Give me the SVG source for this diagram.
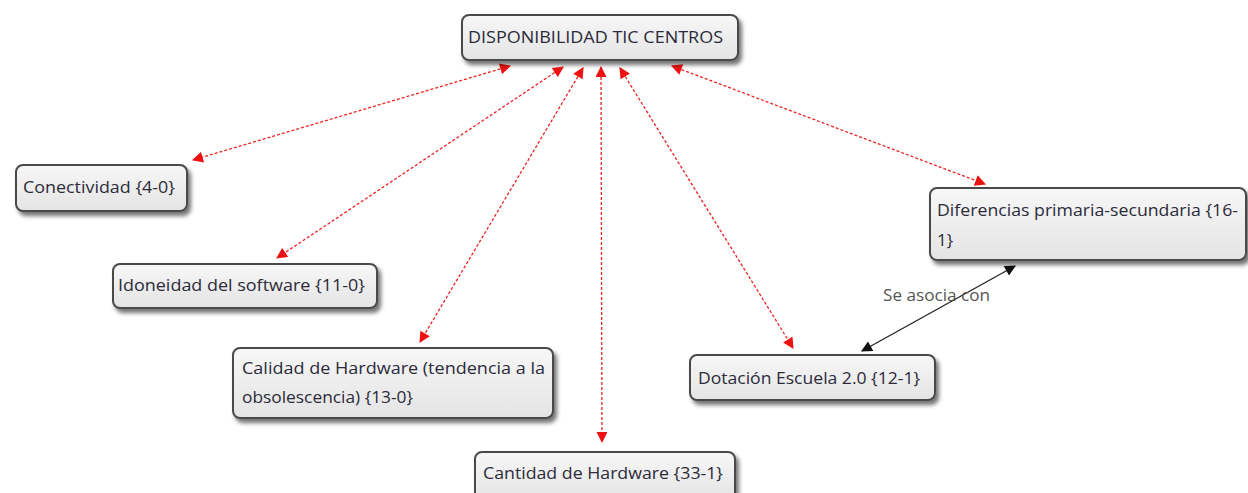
<svg xmlns="http://www.w3.org/2000/svg" width="1248" height="493" viewBox="0 0 1248 493">
<style>
.box{fill:url(#g);stroke:#4a4a4a;stroke-width:2;filter:url(#sh)}
.t{font-family:"Open Sans","Liberation Sans",sans-serif;font-size:17px;fill:#2b2b3a}
.red{stroke:#ee2222;stroke-width:1.3;stroke-dasharray:3 2;fill:none;marker-start:url(#ar);marker-end:url(#ar)}
.blk{stroke:#222;stroke-width:1.3;fill:none;marker-start:url(#ab);marker-end:url(#ab)}
.lbl{font-family:"Open Sans","Liberation Sans",sans-serif;font-size:16px;fill:#555}
</style>
<defs>
<linearGradient id="g" x1="0" y1="0" x2="0" y2="1"><stop offset="0" stop-color="#f7f7f7"/><stop offset="1" stop-color="#e4e4e4"/></linearGradient>
<filter id="sh" x="-10%" y="-20%" width="130%" height="160%"><feDropShadow dx="3" dy="4" stdDeviation="2" flood-color="#000" flood-opacity="0.55"/></filter>
<marker id="ar" viewBox="0 0 10 10" refX="9" refY="5" markerWidth="12" markerHeight="11" markerUnits="userSpaceOnUse" orient="auto-start-reverse"><path d="M0,0 L10,5 L0,10 z" fill="#ee1111"/></marker>
<marker id="ab" viewBox="0 0 10 10" refX="9" refY="5" markerWidth="12" markerHeight="11" markerUnits="userSpaceOnUse" orient="auto-start-reverse"><path d="M0,0 L10,5 L0,10 z" fill="#111"/></marker>
</defs>
<rect width="1248" height="493" fill="#fff"/>
<g id="connectors">
<line class="red" x1="510" y1="66" x2="193" y2="160"/>
<line class="red" x1="563" y1="67" x2="277" y2="258"/>
<line class="red" x1="583" y1="68" x2="420" y2="342"/>
<line class="red" x1="601" y1="67" x2="602" y2="442"/>
<line class="red" x1="620" y1="68" x2="793" y2="348"/>
<line class="red" x1="672" y1="66" x2="985" y2="184"/>
<line class="blk" x1="1015" y1="266" x2="862" y2="351"/>
<text class="lbl" x="883" y="301" textLength="107" lengthAdjust="spacingAndGlyphs">Se asocia con</text>
</g>
<g id="n-top"><rect class="box" x="462" y="15" width="276" height="45" rx="7"/><text class="t" x="468" y="43" textLength="255" lengthAdjust="spacingAndGlyphs">DISPONIBILIDAD TIC CENTROS</text></g>
<g id="n-conectividad"><rect class="box" x="16" y="165" width="171" height="46" rx="7"/><text class="t" x="23" y="193" textLength="152" lengthAdjust="spacingAndGlyphs">Conectividad {4-0}</text></g>
<g id="n-idoneidad"><rect class="box" x="113" y="264" width="264" height="44" rx="7"/><text class="t" x="118" y="291" textLength="247" lengthAdjust="spacingAndGlyphs">Idoneidad del software {11-0}</text></g>
<g id="n-calidad"><rect class="box" x="233" y="348" width="320" height="70" rx="7"/><text class="t" x="242" y="374" textLength="303" lengthAdjust="spacingAndGlyphs">Calidad de Hardware (tendencia a la</text><text class="t" x="242" y="403" textLength="171" lengthAdjust="spacingAndGlyphs">obsolescencia) {13-0}</text></g>
<g id="n-cantidad"><rect class="box" x="475" y="452" width="260" height="48" rx="7"/><text class="t" x="483" y="479" textLength="240" lengthAdjust="spacingAndGlyphs">Cantidad de Hardware {33-1}</text></g>
<g id="n-dotacion"><rect class="box" x="690" y="355" width="245" height="45" rx="7"/><text class="t" x="698" y="384" textLength="222" lengthAdjust="spacingAndGlyphs">Dotación Escuela 2.0 {12-1}</text></g>
<g id="n-diferencias"><rect class="box" x="930" y="188" width="316" height="72" rx="7"/><text class="t" x="937" y="216" textLength="301" lengthAdjust="spacingAndGlyphs">Diferencias primaria-secundaria {16-</text><text class="t" x="937" y="246">1}</text></g>
</svg>
